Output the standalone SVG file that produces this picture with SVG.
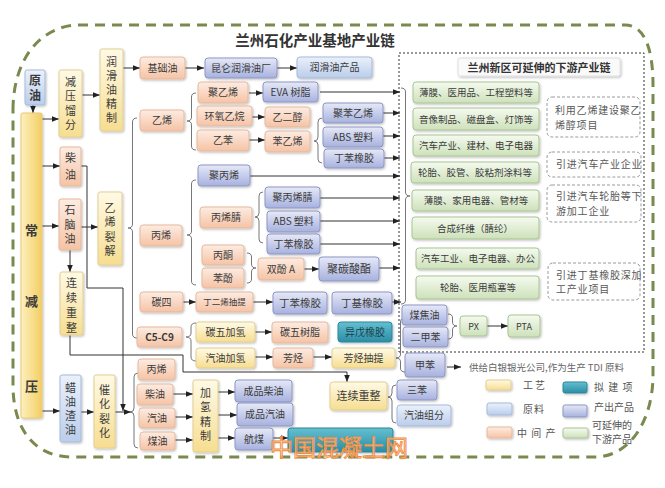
<svg xmlns="http://www.w3.org/2000/svg" width="665" height="488" viewBox="0 0 665 488">
<defs>
<linearGradient id="gy" x1="0" y1="0" x2="0" y2="1"><stop offset="0" stop-color="#fffae6"/><stop offset="1" stop-color="#f6dd90"/></linearGradient>
<linearGradient id="gcol" x1="0" y1="0" x2="1" y2="0"><stop offset="0" stop-color="#fdf0bd"/><stop offset="1" stop-color="#f3cd63"/></linearGradient>
<linearGradient id="go" x1="0" y1="0" x2="0" y2="1"><stop offset="0" stop-color="#fdece2"/><stop offset="1" stop-color="#f5c3a5"/></linearGradient>
<linearGradient id="gb" x1="0" y1="0" x2="0" y2="1"><stop offset="0" stop-color="#eaf1fb"/><stop offset="1" stop-color="#bacdeb"/></linearGradient>
<linearGradient id="gp" x1="0" y1="0" x2="0" y2="1"><stop offset="0" stop-color="#e6e9f7"/><stop offset="1" stop-color="#a7b1de"/></linearGradient>
<linearGradient id="gg" x1="0" y1="0" x2="0" y2="1"><stop offset="0" stop-color="#f5faef"/><stop offset="1" stop-color="#cde1ba"/></linearGradient>
<linearGradient id="gc" x1="0" y1="0" x2="0" y2="1"><stop offset="0" stop-color="#64bfd0"/><stop offset="1" stop-color="#2a8da5"/></linearGradient>
<filter id="sh" x="-10%" y="-10%" width="130%" height="150%"><feDropShadow dx="1" dy="1.2" stdDeviation="0.8" flood-color="#000" flood-opacity="0.25"/></filter>
<marker id="a" viewBox="0 0 8 8" refX="8" refY="4" markerWidth="7" markerHeight="7" markerUnits="userSpaceOnUse" orient="auto"><path d="M0,0.8 L8,4 L0,7.2 z" fill="#222"/></marker>
<style>
rect{stroke-width:1}
.bx{filter:url(#sh)}
.y{fill:url(#gy);stroke:#e2cf92}
.col{fill:url(#gcol);stroke:#e6c978}
.o{fill:url(#go);stroke:#e7b99d}
.b{fill:url(#gb);stroke:#a7badb}
.p{fill:url(#gp);stroke:#8d97c5}
.g{fill:url(#gg);stroke:#aac594}
.c{fill:url(#gc);stroke:#2a879d}
text{font-family:"Noto Sans CJK SC","Noto Sans",sans-serif;font-size:10px;fill:#3b3b3b;text-anchor:middle}
.v{font-size:11px;writing-mode:vertical-rl}
.gt{font-size:9.5px}
.nt{text-anchor:start;fill:#585858;letter-spacing:0.8px}
.lg{text-anchor:start;fill:#555;font-size:10px}
.ln{fill:none;stroke:#333;stroke-width:1}
.ar{fill:none;stroke:#333;stroke-width:1;marker-end:url(#a)}
.br{fill:none;stroke:#777;stroke-width:1}
.note{fill:#fff;stroke:#9a9a9a;stroke-dasharray:3 2}
</style>
</defs>
<rect width="665" height="488" fill="#fff"/>
<path id="boundary" d="M13,110 C13,60 40,25 80,25 L625,25 C645,25 653,50 653,85 L653,375 C653,420 630,457 595,457 L72,457 C35,457 13,430 13,385 Z" fill="none" stroke="#7a8a4e" stroke-width="3" stroke-dasharray="10 7"/>
<text x="315" y="46" style="font-size:14.5px;font-weight:bold;fill:#333">兰州石化产业基地产业链</text>
<rect id="downstream-frame" x="399" y="53" width="245" height="299" fill="none" stroke="#333" stroke-width="2" stroke-dasharray="2 2"/>
<g id="downstream-title"><rect class="bx" x="458" y="58" width="162" height="18" rx="2" fill="#fafafa" stroke="#e0e0e0"/><text x="539" y="71.5" style="font-size:11px;font-weight:bold;fill:#333">兰州新区可延伸的下游产业链</text></g>

<g id="connectors">
<line class="ar" x1="33" y1="105" x2="33" y2="113"/>
<line class="ar" x1="42" y1="119" x2="59" y2="119"/>
<line class="ar" x1="82" y1="95" x2="100" y2="95"/>
<line class="ar" x1="123" y1="68" x2="140" y2="68"/>
<line class="ar" x1="185" y1="68" x2="204" y2="68"/>
<line class="ar" x1="277" y1="68" x2="297" y2="68"/>
<line class="ar" x1="42" y1="166" x2="60" y2="166"/>
<line class="ar" x1="42" y1="226" x2="59" y2="226"/>
<line class="ar" x1="81" y1="227" x2="98" y2="227"/>
<line class="ar" x1="70" y1="250" x2="70" y2="272"/>
<line class="ar" x1="42" y1="411" x2="60" y2="411"/>
<line class="ar" x1="81" y1="412" x2="94" y2="412"/>
<line class="ar" x1="115" y1="412" x2="131" y2="412"/>
<polyline class="ar" points="81,166 87,166 87,288 123,288 123,411"/>
<polyline class="ar" points="70,335 70,355 183,355 183,372 347,372 347,382"/>
<line class="ar" x1="249" y1="93" x2="263" y2="93"/>
<line class="ar" x1="252" y1="117" x2="265" y2="117"/>
<line class="ar" x1="249" y1="140" x2="265" y2="140"/>
<line class="ar" x1="320" y1="92" x2="400" y2="92"/>
<line class="ar" x1="383" y1="113" x2="400" y2="113"/>
<line class="ar" x1="383" y1="136" x2="400" y2="136"/>
<line class="ar" x1="384" y1="158" x2="400" y2="158"/>
<line class="ar" x1="250" y1="176" x2="400" y2="176"/>
<line class="ar" x1="320" y1="198" x2="400" y2="198"/>
<line class="ar" x1="320" y1="221" x2="400" y2="221"/>
<line class="ar" x1="320" y1="244" x2="400" y2="244"/>
<line class="ar" x1="304" y1="269" x2="319" y2="269"/>
<line class="ar" x1="379" y1="268" x2="400" y2="268"/>
<line class="ar" x1="183" y1="302" x2="196" y2="302"/>
<line class="ar" x1="253" y1="302" x2="273" y2="302"/>
<line class="ar" x1="392" y1="302" x2="401" y2="302"/>
<line class="ar" x1="255" y1="332" x2="272" y2="332"/>
<line class="ar" x1="255" y1="357" x2="273" y2="357"/>
<line class="ar" x1="313" y1="357" x2="332" y2="357"/>
<line class="ar" x1="487" y1="326" x2="508" y2="326"/>
<line class="ar" x1="447" y1="367" x2="461" y2="367"/>
<line class="ar" x1="173" y1="394" x2="193" y2="394"/>
<line class="ar" x1="175" y1="417" x2="193" y2="417"/>
<line class="ar" x1="175" y1="440" x2="193" y2="440"/>
<line class="ar" x1="218" y1="392" x2="235" y2="392"/>
<line class="ar" x1="218" y1="415" x2="237" y2="415"/>
<line class="ar" x1="218" y1="438" x2="235" y2="438"/>
<line class="ar" x1="273" y1="438" x2="288" y2="438"/>
<path class="br" d="M137,118 Q132.5,118 132.5,122 L132.5,224 Q132.5,228 128,228 Q132.5,228 132.5,232 L132.5,334 Q132.5,338 137,338"/>
<path class="br" d="M196,93 Q191.5,93 191.5,97 L191.5,117 Q191.5,121 187,121 Q191.5,121 191.5,125 L191.5,146 Q191.5,150 196,150"/>
<path class="br" d="M196,180 Q191.5,180 191.5,184 L191.5,231 Q191.5,235 187,235 Q191.5,235 191.5,239 L191.5,281 Q191.5,285 196,285"/>
<path class="br" d="M196,323 Q191,323 191,327 L191,333 Q191,337 186,337 Q191,337 191,341 L191,357 Q191,361 196,361"/>
<path class="br" d="M322,118 Q318,118 318,122 L318,137 Q318,141 314,141 Q318,141 318,145 L318,159 Q318,163 322,163"/>
<path class="br" d="M263,192 Q259,192 259,196 L259,213 Q259,217 255,217 Q259,217 259,221 L259,239 Q259,243 263,243"/>
<path class="br" d="M138,373 Q134,373 134,377 L134,408 Q134,412 130,412 Q134,412 134,416 L134,444 Q134,448 138,448"/>
<path class="br" d="M396,385 Q392,385 392,389 L392,393 Q392,397 388,397 Q392,397 392,401 L392,419 Q392,423 396,423"/>
<path class="br" d="M405,318 Q400.5,318 400.5,322 L400.5,354 Q400.5,358 396,358 Q400.5,358 400.5,362 L400.5,368 Q400.5,372 405,372"/>
<path class="br" d="M247,253 Q251.5,253 251.5,257 L251.5,264 Q251.5,268 256,268 Q251.5,268 251.5,272 L251.5,279 Q251.5,283 247,283"/>
<path class="br" d="M448,314 Q452.5,314 452.5,318 L452.5,322 Q452.5,326 457,326 Q452.5,326 452.5,330 L452.5,335 Q452.5,339 448,339"/>
<path class="br" d="M401,88 Q405.5,88 405.5,92 L405.5,192 Q405.5,196 410,196 Q405.5,196 405.5,200 L405.5,300 Q405.5,304 401,304"/>
</g>

<g id="n-yuanyou"><rect class="bx b" x="25" y="70" width="20" height="35" rx="2"/><text class="v" x="35" y="89" style="font-size:12px;font-weight:bold;letter-spacing:3px">原油</text></g>
<g id="n-changjianya"><rect class="bx col" x="21" y="113" width="21" height="305" rx="2"/><text style="font-size:13px;font-weight:bold"><tspan x="31.5" y="235">常</tspan><tspan x="31.5" y="306">减</tspan><tspan x="31.5" y="391">压</tspan></text></g>
<g id="n-jianyaliufen"><rect class="bx y" x="59" y="70" width="23" height="67" rx="2"/><text class="v" x="70.5" y="105" style="letter-spacing:3.3px">减压馏分</text></g>
<g id="n-runhuayoujingzhi"><rect class="bx y" x="100" y="49" width="23" height="82" rx="2"/><text class="v" x="111.5" y="91" style="letter-spacing:3px">润滑油精制</text></g>
<g id="n-jichuyou"><rect class="bx o" x="140" y="57" width="45" height="22" rx="3"/><text x="162.5" y="71.5">基础油</text></g>
<g id="n-kunlun"><rect class="bx p" x="205" y="58" width="72" height="20" rx="3"/><text x="241" y="71.5">昆仑润滑油厂</text></g>
<g id="n-runhuayouchanpin"><rect class="bx b" x="297" y="57" width="75" height="21" rx="3"/><text x="334.5" y="71">润滑油产品</text></g>
<g id="n-chaiyou1"><rect class="bx o" x="60" y="147" width="21" height="39" rx="2"/><text class="v" x="70.5" y="169" style="letter-spacing:6px">柴油</text></g>
<g id="n-shinaoyou"><rect class="bx o" x="59" y="199" width="22" height="51" rx="2"/><text class="v" x="70" y="226.5" style="letter-spacing:3.5px">石脑油</text></g>
<g id="n-yixiliejie"><rect class="bx y" x="98" y="192" width="24" height="73" rx="2"/><text class="v" x="110" y="231" style="letter-spacing:3.3px">乙烯裂解</text></g>
<g id="n-lianxuchongzheng1"><rect class="bx y" x="60" y="272" width="23" height="63" rx="2"/><text class="v" x="71.5" y="307.5" style="letter-spacing:4px">连续重整</text></g>
<g id="n-layouzhayou"><rect class="bx b" x="60" y="375" width="21" height="67" rx="2"/><text class="v" x="70.5" y="410.5" style="letter-spacing:3px">蜡油渣油</text></g>
<g id="n-cuihualiehua"><rect class="bx y" x="94" y="375" width="21" height="73" rx="2"/><text class="v" x="104.5" y="413" style="letter-spacing:3.3px">催化裂化</text></g>
<g id="n-yixi"><rect class="bx o" x="140" y="110" width="44" height="21" rx="3"/><text x="162" y="124">乙烯</text></g>
<g id="n-bingxi"><rect class="bx o" x="140" y="225" width="42" height="21" rx="3"/><text x="161" y="239">丙烯</text></g>
<g id="n-tansi"><rect class="bx o" x="140" y="292" width="43" height="20" rx="3"/><text x="161.5" y="305.5">碳四</text></g>
<g id="n-c5c9"><rect class="bx o" x="137" y="327" width="45" height="20" rx="3"/><text x="159.5" y="340.5" style="font-weight:bold">C5-C9</text></g>
<g id="n-juyixi"><rect class="bx o" x="198" y="82" width="50" height="21" rx="3"/><text x="223" y="96">聚乙烯</text></g>
<g id="n-huanyangyiwan"><rect class="bx o" x="197" y="106" width="55" height="20" rx="3"/><text x="224.5" y="119.5">环氧乙烷</text></g>
<g id="n-yiben"><rect class="bx o" x="197" y="130" width="52" height="21" rx="3"/><text x="223" y="144">乙苯</text></g>
<g id="n-eva"><rect class="bx p" x="263" y="82" width="55" height="20" rx="3"/><text x="290.5" y="95.5">EVA 树脂</text></g>
<g id="n-yierchun"><rect class="bx o" x="265" y="107" width="45" height="20" rx="3"/><text x="287.5" y="120.5">乙二醇</text></g>
<g id="n-benyixi"><rect class="bx o" x="265" y="131" width="45" height="21" rx="3"/><text x="287.5" y="145">苯乙烯</text></g>
<g id="n-jubenyixi"><rect class="bx p" x="323" y="103" width="60" height="20" rx="3"/><text x="353" y="116.5">聚苯乙烯</text></g>
<g id="n-abs1"><rect class="bx p" x="323" y="127" width="60" height="20" rx="3"/><text x="353" y="140.5">ABS 塑料</text></g>
<g id="n-dingben1"><rect class="bx p" x="324" y="149" width="60" height="19" rx="3"/><text x="354" y="162">丁苯橡胶</text></g>
<g id="n-jubingxi"><rect class="bx p" x="198" y="165" width="52" height="21" rx="3"/><text x="224" y="179">聚丙烯</text></g>
<g id="n-bingxijing"><rect class="bx o" x="200" y="207" width="52" height="21" rx="3"/><text x="226" y="221">丙烯腈</text></g>
<g id="n-jubingxijing"><rect class="bx p" x="265" y="187" width="55" height="21" rx="3"/><text x="292.5" y="201">聚丙烯腈</text></g>
<g id="n-abs2"><rect class="bx p" x="267" y="211" width="53" height="21" rx="3"/><text x="293.5" y="225">ABS 塑料</text></g>
<g id="n-dingben2"><rect class="bx p" x="267" y="234" width="53" height="20" rx="3"/><text x="293.5" y="247.5">丁苯橡胶</text></g>
<g id="n-bingtong"><rect class="bx o" x="202" y="245" width="42" height="20" rx="3"/><text x="223" y="258.5">丙酮</text></g>
<g id="n-benfen"><rect class="bx o" x="202" y="268" width="42" height="20" rx="3"/><text x="223" y="281.5">苯酚</text></g>
<g id="n-shuangfena"><rect class="bx o" x="258" y="258" width="46" height="22" rx="3"/><text x="281" y="272.5">双酚 A</text></g>
<g id="n-jutansuanzhi"><rect class="bx p" x="319" y="257" width="60" height="24" rx="3"/><text x="349" y="272.5" style="font-size:11px">聚碳酸酯</text></g>
<g id="n-dingerxi"><rect class="bx o" x="196" y="292" width="57" height="20" rx="3"/><text x="224.5" y="305" style="font-size:8.5px">丁二烯抽提</text></g>
<g id="n-dingben3"><rect class="bx p" x="273" y="292" width="54" height="22" rx="3"/><text x="300" y="306.5" style="font-size:10.5px">丁苯橡胶</text></g>
<g id="n-dingji"><rect class="bx p" x="332" y="292" width="60" height="22" rx="3"/><text x="362" y="306.5" style="font-size:10.5px">丁基橡胶</text></g>
<g id="n-tanwujiaqing"><rect class="bx y" x="196" y="322" width="59" height="20" rx="3"/><text x="225.5" y="335.5">碳五加氢</text></g>
<g id="n-tanwushuzhi"><rect class="bx o" x="272" y="322" width="56" height="21" rx="3"/><text x="300" y="336">碳五树脂</text></g>
<g id="n-yiwu"><rect class="bx c" x="338" y="322" width="54" height="20" rx="3"/><text x="365" y="335.5" style="fill:#1d3f4c">异戊橡胶</text></g>
<g id="n-qiyoujiaqing"><rect class="bx y" x="196" y="348" width="59" height="20" rx="3"/><text x="225.5" y="361.5">汽油加氢</text></g>
<g id="n-fangting"><rect class="bx o" x="273" y="348" width="40" height="20" rx="3"/><text x="293" y="361.5">芳烃</text></g>
<g id="n-fangtingchouti"><rect class="bx y" x="332" y="348" width="63" height="20" rx="3"/><text x="363.5" y="361.5">芳烃抽提</text></g>
<g id="n-meijiaoyou"><rect class="bx p" x="402" y="305" width="45" height="20" rx="3"/><text x="424.5" y="318.5">煤焦油</text></g>
<g id="n-erjiaben"><rect class="bx p" x="403" y="327" width="45" height="20" rx="3"/><text x="425.5" y="340.5">二甲苯</text></g>
<g id="n-px"><rect class="bx g" x="460" y="316" width="27" height="20" rx="3"/><text x="473.5" y="329.5" style="font-size:9px">PX</text></g>
<g id="n-pta"><rect class="bx g" x="508" y="315" width="32" height="22" rx="3"/><text x="524" y="329.5" style="font-size:9px">PTA</text></g>
<g id="n-jiaben"><rect class="bx p" x="405" y="353" width="40" height="24" rx="3"/><text x="425" y="368.5">甲苯</text></g>
<text x="469" y="370.5" style="text-anchor:start;font-size:9.5px;fill:#666">供给白银银光公司,作为生产 TDI 原料</text>
<g id="n-lianxuchongzheng2"><rect class="bx y" x="330" y="382" width="57" height="28" rx="3"/><text x="358.5" y="399.5" style="font-size:11px">连续重整</text></g>
<g id="n-sanben"><rect class="bx p" x="397" y="380" width="40" height="20" rx="3"/><text x="417" y="393.5">三苯</text></g>
<g id="n-qiyouzufen"><rect class="bx b" x="397" y="405" width="54" height="21" rx="3"/><text x="424" y="419">汽油组分</text></g>
<g id="n-bingxi2"><rect class="bx o" x="138" y="359" width="37" height="21" rx="3"/><text x="156.5" y="373">丙烯</text></g>
<g id="n-chaiyou2"><rect class="bx o" x="137" y="384" width="36" height="21" rx="3"/><text x="155" y="398">柴油</text></g>
<g id="n-qiyou"><rect class="bx o" x="139" y="408" width="36" height="20" rx="3"/><text x="157" y="421.5">汽油</text></g>
<g id="n-meiyou"><rect class="bx o" x="140" y="432" width="35" height="18" rx="3"/><text x="157.5" y="444.5">煤油</text></g>
<g id="n-jiaqingjingzhi"><rect class="bx y" x="193" y="380" width="25" height="72" rx="2"/><text class="v" x="205.5" y="416" style="letter-spacing:3.3px">加氢精制</text></g>
<g id="n-chengpinchaiyou"><rect class="bx p" x="235" y="380" width="57" height="22" rx="3"/><text x="263.5" y="394.5">成品柴油</text></g>
<g id="n-chengpinqiyou"><rect class="bx p" x="237" y="403" width="56" height="23" rx="3"/><text x="265" y="418">成品汽油</text></g>
<g id="n-hangmei"><rect class="bx p" x="235" y="428" width="38" height="22" rx="3"/><text x="254" y="442.5">航煤</text></g>
<g id="n-planned"><rect class="bx c" x="288" y="428" width="105" height="24" rx="3"/></g>

<g id="n-g1"><rect class="bx g" x="413" y="82" width="126" height="21" rx="3"/><text class="gt" x="476" y="96">薄膜、医用品、工程塑料等</text></g>
<g id="n-g2"><rect class="bx g" x="413" y="108" width="126" height="22" rx="3"/><text class="gt" x="476" y="122.5">音像制品、磁盘盒、灯饰等</text></g>
<g id="n-g3"><rect class="bx g" x="413" y="135" width="126" height="21" rx="3"/><text class="gt" x="476" y="149">汽车产业、建材、电子电器</text></g>
<g id="n-g4"><rect class="bx g" x="411" y="162" width="128" height="21" rx="3"/><text class="gt" x="475" y="176">轮胎、胶管、胶粘剂涂料等</text></g>
<g id="n-g5"><rect class="bx g" x="412" y="190" width="127" height="21" rx="3"/><text class="gt" x="476" y="204">薄膜、家用电器、管材等</text></g>
<g id="n-g6"><rect class="bx g" x="412" y="217" width="127" height="22" rx="3"/><text class="gt" x="475" y="231.5">合成纤维（腈纶）</text></g>
<g id="n-g7"><rect class="bx g" x="416" y="248" width="123" height="21" rx="3"/><text class="gt" x="478" y="262">汽车工业、电子电器、办公</text></g>
<g id="n-g8"><rect class="bx g" x="416" y="276" width="123" height="23" rx="3"/><text class="gt" x="478" y="291">轮胎、医用瓶塞等</text></g>

<g id="note-1"><rect class="note" x="547" y="97" width="93" height="40" rx="5"/><text class="nt" x="555" y="114">利用乙烯建设聚乙</text><text class="nt" x="555" y="129">烯醇项目</text></g>
<g id="note-2"><rect class="note" x="547" y="152" width="94" height="25" rx="5"/><text class="nt" x="556" y="168">引进汽车产业企业</text></g>
<g id="note-3"><rect class="note" x="547" y="185" width="94" height="37" rx="5"/><text class="nt" x="556" y="200">引进汽车轮胎等下</text><text class="nt" x="556" y="215">游加工企业</text></g>
<g id="note-4"><rect class="note" x="548" y="263" width="92" height="37" rx="5"/><text class="nt" x="556" y="279">引进丁基橡胶深加</text><text class="nt" x="556" y="293">工产业项目</text></g>

<g id="legend">
<rect class="bx y" x="486" y="380" width="25" height="10" rx="2"/><text class="lg" x="523" y="389" style="letter-spacing:2px">工艺</text>
<rect class="bx c" x="563" y="382" width="24" height="11" rx="2"/><text class="lg" x="594" y="391" style="letter-spacing:1px">拟 建 项</text>
<rect class="bx b" x="487" y="403" width="25" height="12" rx="2"/><text class="lg" x="523" y="413" style="letter-spacing:1px">原料</text>
<rect class="bx p" x="563" y="405" width="24" height="12" rx="2"/><text class="lg" x="594" y="411">产出产品</text>
<rect class="bx o" x="487" y="427" width="25" height="11" rx="2"/><text class="lg" x="517" y="437" style="letter-spacing:1px">中 间 产</text>
<rect class="bx g" x="563" y="428" width="25" height="10" rx="2"/><text class="lg" x="592" y="429">可延伸的</text><text class="lg" x="592" y="443">下游产品</text>
</g>
<text x="339" y="456" style="font-size:23px;fill:#fbd2ad;fill-opacity:0.75;stroke:#f08a3c;stroke-width:0.9">中国混凝土网</text>
</svg>
